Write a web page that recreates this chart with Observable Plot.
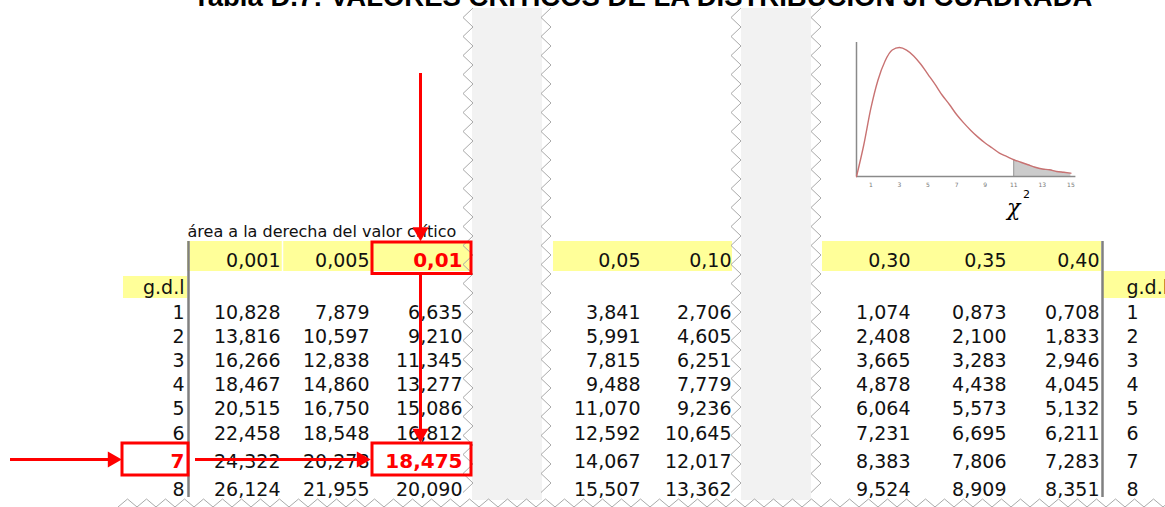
<!DOCTYPE html>
<html><head><meta charset="utf-8">
<script src="https://cdn.jsdelivr.net/npm/d3@7"></script>
<script src="https://cdn.jsdelivr.net/npm/@observablehq/plot@0.6"></script>
<style>
html,body{margin:0;padding:0;background:#fff;overflow:hidden}
#wrap{position:relative;width:1165px;height:507px;overflow:hidden;background:#fff}
#title{position:absolute;left:193px;top:-17px;font:bold 27.5px "Liberation Sans",Arial,sans-serif;white-space:nowrap;color:#000;line-height:1;z-index:3}
#main{position:absolute;left:0;top:0}
#inset{position:absolute;left:840px;top:30px}
</style></head><body>
<div id="wrap">
  <div id="title">Tabla D.7: VALORES CRÍTICOS DE LA DISTRIBUCIÓN JI CUADRADA</div>
  <div id="main"></div>
  <div id="inset"></div>
</div>
<script>
// ---------------- data ----------------
const degreesOfFreedom = [1, 2, 3, 4, 5, 6, 7, 8];
const areaLabels = ["0,001", "0,005", "0,01", "0,05", "0,10", "0,30", "0,35", "0,40"];
const crit_0001 = [10.828, 13.816, 16.266, 18.467, 20.515, 22.458, 24.322, 26.124];
const crit_0005 = [7.879, 10.597, 12.838, 14.860, 16.750, 18.548, 20.278, 21.955];
const crit_001  = [6.635, 9.210, 11.345, 13.277, 15.086, 16.812, 18.475, 20.090];
const crit_005  = [3.841, 5.991, 7.815, 9.488, 11.070, 12.592, 14.067, 15.507];
const crit_010  = [2.706, 4.605, 6.251, 7.779, 9.236, 10.645, 12.017, 13.362];
const crit_030  = [1.074, 2.408, 3.665, 4.878, 6.064, 7.231, 8.383, 9.524];
const crit_035  = [0.873, 2.100, 3.283, 4.438, 5.573, 6.695, 7.806, 8.909];
const crit_040  = [0.708, 1.833, 2.946, 4.045, 5.132, 6.211, 7.283, 8.351];
const criticalColumns = [crit_0001, crit_0005, crit_001, crit_005, crit_010, crit_030, crit_035, crit_040];
const selectedDf = 7;
const selectedArea = "0,01";
const areaCaption = "área a la derecha del valor crítico";
const gdlLabel = "g.d.l";
const titleText = "Tabla D.7: VALORES CRÍTICOS DE LA DISTRIBUCIÓN JI CUADRADA";

// inset curve
const chiX = [0, 0.5, 1, 1.5, 2, 2.5, 3, 3.5, 4, 4.5, 5, 5.5, 6, 6.5, 7, 7.5, 8, 8.5, 9, 9.5, 10, 10.5, 11, 11.5, 12, 12.5, 13, 13.5, 14, 14.5, 15];
const chiDensity = [0, 0.037, 0.081, 0.115, 0.138, 0.151, 0.154, 0.151, 0.144, 0.134, 0.122, 0.110, 0.097, 0.086, 0.074, 0.064, 0.055, 0.047, 0.040, 0.034, 0.028, 0.024, 0.020, 0.017, 0.014, 0.011, 0.009, 0.008, 0.006, 0.005, 0.004];
const chiTicks = [1, 3, 5, 7, 9, 11, 13, 15];
const tailStart = 11;

// ---------------- layout (scale slots) ----------------
const colSlot = [1, 2, 3, 5, 6, 8, 9, 10];           // slots 4 and 7 are torn-out strips
const xSlots = [0, 1, 2, 3, 4, 5, 6, 7, 8, 9, 10, 11];
const xRange = [184, 280, 369, 462, 551, 640, 731, 820, 910, 1006, 1099, 1188];
const ySlots = [-2, -1, 0, 1, 2, 3, 4, 5, 6, 7, 8, 9, 10, 11];
const yRange = [8, 73, 231, 260, 287, 312, 336, 360, 384, 408, 433, 461, 489, 497];
const rowSlot = df => df + 2;
const HEAD = 1, GDL = 2, CAPTION = 0, TOP = -1, SHEET = -2, END = 11;

document.getElementById("title").textContent = titleText;

const fmt = v => d3.format(".3f")(v).replace(".", ",");
const cells = [];
criticalColumns.forEach((col, j) => col.forEach((v, i) => cells.push({
  x: colSlot[j], y: rowSlot(degreesOfFreedom[i]), label: fmt(v),
  hi: areaLabels[j] === selectedArea && degreesOfFreedom[i] === selectedDf
})));
const heads = areaLabels.map((a, j) => ({x: colSlot[j], label: a, hi: a === selectedArea}));
const dfRows = degreesOfFreedom.map(d => ({y: rowSlot(d), label: String(d), hi: d === selectedDf}));
const selX = colSlot[areaLabels.indexOf(selectedArea)];
const selY = rowSlot(selectedDf);

const FONT = "DejaVu Sans";
const normal = {fontFamily: FONT, fontSize: 19, fill: "#111"};
const bold = {fontFamily: FONT, fontSize: 20, fontWeight: "bold", fill: "#ff0000"};
const RED = "#ff0000";

function tornEdges(index, scales, values, dimensions) {
  const {x, y} = scales;
  const g = d3.create("svg:g").attr("fill", "none").attr("stroke", "#a9a9a9").attr("stroke-width", 1);
  const top = y(SHEET), bottom = y(END) + 3, half = 9.5;
  const vz = (xa, xb) => {
    const pts = []; let k = 0;
    for (let yy = top; yy <= bottom + 0.1; yy += half, k++) pts.push([k % 2 ? xa : xb, yy]);
    return pts;
  };
  [[x(3) + 1, x(3) + 11], [x(4) - 10, x(4)], [x(6), x(6) + 10], [x(7) - 9, x(7) + 1]]
    .forEach(([a, b]) => g.append("path").attr("d", d3.line()(vz(a, b))));
  const pts = []; let k = 0;
  for (let xx = x(0) - 66; xx <= dimensions.width + half; xx += half, k++) pts.push([xx, k % 2 ? bottom - 1 : dimensions.height]);
  g.append("path").attr("d", d3.line()(pts));
  return g.node();
}

const main = Plot.plot({
  width: 1165, height: 507, margin: 0,
  x: {type: "linear", domain: xSlots, range: xRange, axis: null},
  y: {type: "linear", domain: ySlots, range: yRange, axis: null},
  style: {background: "transparent", overflow: "visible"},
  marks: [
    // torn-out grey strips
    Plot.rect([{a: 3, b: 4}, {a: 6, b: 7}], {x1: "a", x2: "b", y1: SHEET, y2: END, fill: "#f2f2f2", insetLeft: 10, insetRight: 9, insetBottom: -3}),
    // yellow header bands
    Plot.rect([{a: 0, b: 3}], {x1: "a", x2: "b", y1: HEAD - 0.5, y2: HEAD + 0.5, fill: "#ffff99", insetLeft: 3, insetRight: -8, insetTop: -4.5, insetBottom: 2.5}),
    Plot.rect([{a: 4, b: 6}], {x1: "a", x2: "b", y1: HEAD - 0.5, y2: HEAD + 0.5, fill: "#ffff99", insetLeft: 2, insetRight: -1, insetTop: -4.5, insetBottom: 2.5}),
    Plot.rect([{a: 7, b: 10}], {x1: "a", x2: "b", y1: HEAD - 0.5, y2: HEAD + 0.5, fill: "#ffff99", insetLeft: 2, insetRight: -2, insetTop: -4.5, insetBottom: 2.5}),
    Plot.ruleX([1], {x: d => d, y1: HEAD - 0.5, y2: HEAD + 0.5, dx: 2, stroke: "#fff", strokeWidth: 1.5, insetTop: -4.5, insetBottom: 2.5}),
    // yellow g.d.l cells
    Plot.rect([0], {x1: d => d, x2: d => d, y1: GDL, y2: GDL, fill: "#ffff99", insetLeft: -61, insetRight: -3, insetTop: -11, insetBottom: -11}),
    Plot.rect([10], {x1: d => d, x2: d => d + 1, y1: GDL, y2: GDL, fill: "#ffff99", insetLeft: 4, insetTop: -16, insetBottom: -11}),
    // grey vertical table lines
    Plot.ruleX([0], {x: d => d, dx: 4, y1: HEAD - 0.5, y2: END, stroke: "#808080", strokeWidth: 2.5, insetTop: -4.5}),
    Plot.ruleX([10], {x: d => d, dx: 3, y1: HEAD - 0.5, y2: END, stroke: "#808080", strokeWidth: 2.5, insetTop: -4.5}),
    tornEdges,
    // texts
    Plot.text([areaCaption], {x: 0, y: CAPTION, dx: 3, text: d => d, textAnchor: "start", fontFamily: FONT, fontSize: 16, fill: "#111"}),
    Plot.text(heads.filter(d => !d.hi), {x: "x", y: HEAD, text: "label", textAnchor: "end", ...normal}),
    Plot.text(heads.filter(d => d.hi), {x: "x", y: HEAD, text: "label", textAnchor: "end", ...bold}),
    Plot.text([gdlLabel], {x: 0, y: GDL, text: d => d, textAnchor: "end", ...normal}),
    Plot.text([gdlLabel], {x: 10, y: GDL, dx: 27, text: d => d, textAnchor: "start", ...normal}),
    Plot.text(dfRows.filter(d => !d.hi), {x: 0, y: "y", text: "label", textAnchor: "end", ...normal}),
    Plot.text(dfRows.filter(d => d.hi), {x: 0, y: "y", text: "label", textAnchor: "end", ...bold}),
    Plot.text(dfRows, {x: 10, y: "y", dx: 27, text: "label", textAnchor: "start", ...normal}),
    Plot.text(cells.filter(d => !d.hi), {x: "x", y: "y", text: "label", textAnchor: "end", ...normal}),
    Plot.text(cells.filter(d => d.hi), {x: "x", y: "y", text: "label", textAnchor: "end", ...bold}),
    // red highlight boxes
    Plot.rect([selX], {x1: d => d - 1, x2: d => d, y1: HEAD - 0.5, y2: HEAD + 0.5, fill: "none", stroke: RED, strokeWidth: 3, insetLeft: 3, insetRight: -9, insetTop: -3.5, insetBottom: 0}),
    Plot.rect([selX], {x1: d => d - 1, x2: d => d, y1: selY - 0.5, y2: selY + 0.5, fill: "none", stroke: RED, strokeWidth: 3, insetLeft: 3, insetRight: -9, insetTop: -4, insetBottom: 0}),
    Plot.rect([0], {x1: d => d, x2: d => d, y1: selY - 0.5, y2: selY + 0.5, fill: "none", stroke: RED, strokeWidth: 3, insetLeft: -62, insetRight: -4, insetTop: -4, insetBottom: 0}),
    // red arrows
    Plot.ruleX([selX], {x: d => d, dx: -42, y1: TOP, y2: HEAD - 0.5, stroke: RED, strokeWidth: 3, insetBottom: 12}),
    Plot.dot([selX], {x: d => d, dx: -42, y: HEAD - 0.5, dy: -14, symbol: "triangle", r: 6, rotate: 180, fill: RED, stroke: "none"}),
    Plot.ruleX([selX], {x: d => d, dx: -42, y1: HEAD + 0.5, y2: selY - 0.5, stroke: RED, strokeWidth: 3, insetBottom: 14}),
    Plot.dot([selX], {x: d => d, dx: -42, y: selY - 0.5, dy: -14, symbol: "triangle", r: 6, rotate: 180, fill: RED, stroke: "none"}),
    Plot.ruleY([selY], {y: d => d, dy: -2, x1: 0, x2: 0, stroke: RED, strokeWidth: 3, insetLeft: -174, insetRight: 72}),
    Plot.dot([selY], {x: 0, dx: -72, y: d => d, dy: -2, symbol: "triangle", r: 6, rotate: 90, fill: RED, stroke: "none"}),
    Plot.ruleY([selY], {y: d => d, dy: -2, x1: 0, x2: selX - 1, stroke: RED, strokeWidth: 3, insetLeft: 11, insetRight: 8}),
    Plot.dot([selY], {x: selX - 1, dx: -8, y: d => d, dy: -2, symbol: "triangle", r: 6, rotate: 90, fill: RED, stroke: "none"})
  ]
});
document.getElementById("main").appendChild(main);

// ---------------- inset chi-square sketch ----------------
const curve = chiX.map((x, i) => ({x, y: chiDensity[i]}));
const tail = curve.filter(d => d.x >= tailStart);
const inset = Plot.plot({
  width: 250, height: 190, marginLeft: 16, marginRight: 14.6, marginTop: 12, marginBottom: 44,
  x: {domain: [0, 15.35], ticks: chiTicks, tickSize: 0, tickPadding: 6, label: null},
  y: {domain: [0, 0.16], axis: null},
  style: {fontSize: "6px", color: "#777", fontFamily: FONT, background: "transparent", overflow: "visible"},
  marks: [
    Plot.areaY(tail, {x: "x", y: "y", fill: "#cbcbcb", curve: "monotone-x"}),
    Plot.ruleX(tail.slice(0, 1), {x: "x", y1: 0, y2: "y", stroke: "#9a9a9a"}),
    Plot.ruleX([0], {y1: 0, y2: 0.16, stroke: "#8a8a8a", strokeWidth: 1.5}),
    Plot.ruleY([0], {x1: 0, x2: 15.35, stroke: "#8a8a8a", strokeWidth: 1.5}),
    Plot.line(curve, {x: "x", y: "y", stroke: "#c87272", strokeWidth: 1.4, curve: "monotone-x"}),
    Plot.text(["χ"], {x: 11.0, y: -0.037, text: d => d, fontFamily: "DejaVu Serif", fontStyle: "italic", fontSize: 22, fill: "#000"}),
    Plot.text(["2"], {x: 11.9, y: -0.022, text: d => d, fontFamily: "DejaVu Sans", fontSize: 11, fill: "#000"})
  ]
});
document.getElementById("inset").appendChild(inset);
</script>
</body></html>
